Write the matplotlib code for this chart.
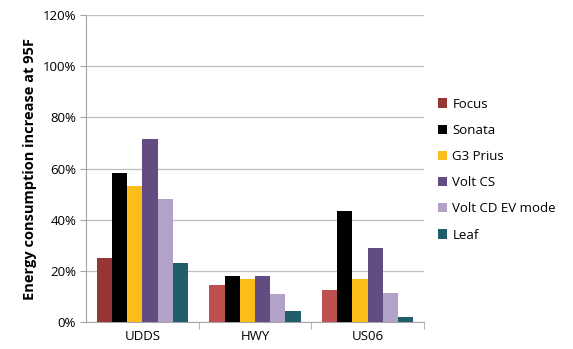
import matplotlib.pyplot as plt
import numpy as np
from matplotlib.ticker import PercentFormatter

plt.rcParams['font.family'] = ['Open Sans', 'DejaVu Sans']

cycles = ['UDDS', 'HWY', 'US06']
vehicles = ['Focus', 'Sonata', 'G3 Prius', 'Volt CS', 'Volt CD EV mode', 'Leaf']
focus = [25, 14.5, 12.5]
sonata = [58.3, 18, 43.5]
prius = [53, 17, 17]
volt_cs = [71.5, 18, 29]
volt_cd = [48.3, 11, 11.5]
leaf = [23, 4.5, 2]

colors = ['#C0504D', '#000000', '#FBBE19', '#634C82', '#B3A2C7', '#215E6B']

fig = plt.figure(figsize=(5.73, 3.49), dpi=100)
ax = fig.add_axes([0.150, 0.077, 0.590, 0.880])

x = np.arange(len(cycles))
w = 0.135
series = [focus, sonata, prius, volt_cs, volt_cd, leaf]
for i, (name, vals) in enumerate(zip(vehicles, series)):
    cols = [colors[i]] * len(cycles)
    if i == 0:
        cols[0] = '#963634'  # UDDS focus bar is darker in the original
    ax.bar(x + (i - 2.5) * w, vals, w, color=cols, label=name, zorder=3)

ax.set_xlim(-0.5, 2.5)
ax.set_ylim(0, 120)
ax.set_yticks(np.arange(0, 121, 20))
ax.yaxis.set_major_formatter(PercentFormatter(decimals=0))
ax.grid(axis='y', color='#BFBFBF', linewidth=0.9, zorder=0)

ax.set_xticks(x)
ax.set_xticklabels(cycles, fontsize=9.5)
ax.set_xticks([0.5, 1.5, 2.5], minor=True)
ax.tick_params(axis='x', which='major', length=0, pad=6)
ax.tick_params(axis='x', which='minor', length=5, color='#A6A6A6')
ax.tick_params(axis='y', length=4, color='#A6A6A6', labelsize=9.5, pad=3)

for s in ['top', 'right']:
    ax.spines[s].set_visible(False)
for s in ['left', 'bottom']:
    ax.spines[s].set_color('#A6A6A6')

ax.set_ylabel('Energy consumption increase at 95F', fontsize=10.5,
              fontweight='bold', labelpad=4)

leg = ax.legend(loc='upper left', bbox_to_anchor=(1.025, 0.748), frameon=False,
                fontsize=9.5, handlelength=0.7, handleheight=0.7,
                handletextpad=0.4, labelspacing=1.0, borderaxespad=0)

fig.savefig('out.png', dpi=100)
